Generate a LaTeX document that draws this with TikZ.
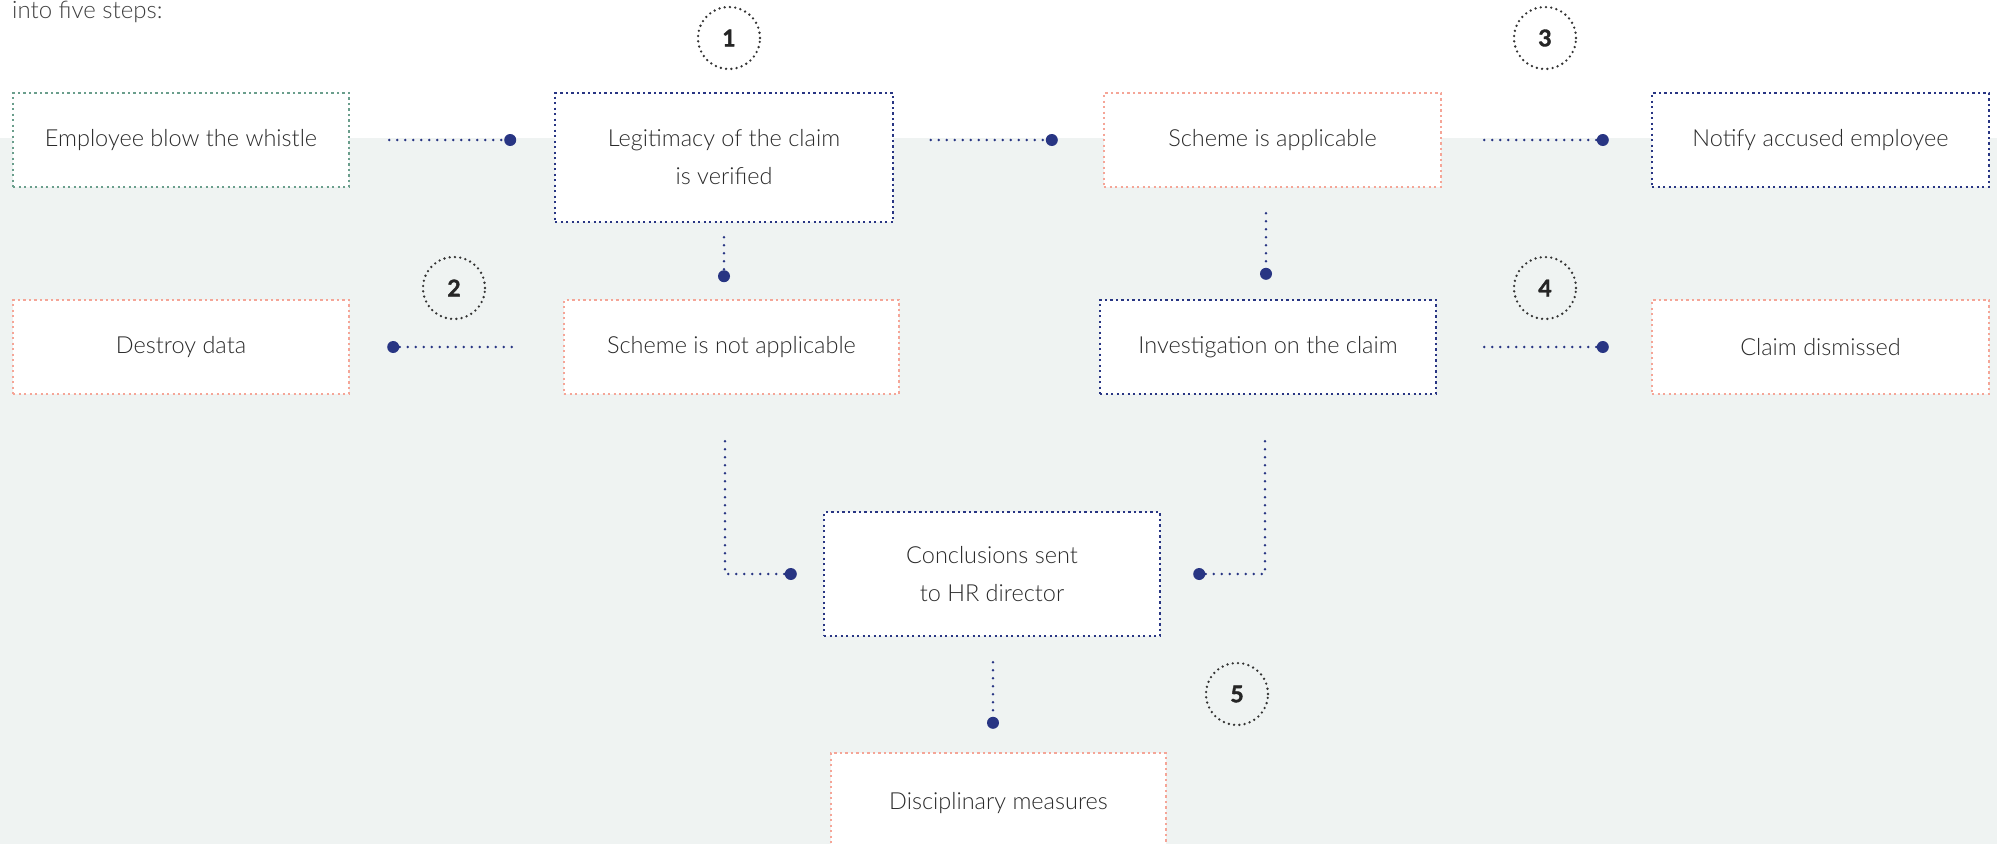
\documentclass[tikz,border=0pt]{standalone}
\usepackage{fontspec}
\setmainfont{Lato}
\newfontfamily\lightfont{Lato Light}
\newfontfamily\numfont{Lato}[BoldFeatures={FakeBold=1.6}]
\usetikzlibrary{calc}
\definecolor{navy}{HTML}{283583}
\definecolor{salmon}{HTML}{F5A597}
\definecolor{sage}{HTML}{6A9E8C}
\definecolor{bggray}{HTML}{EFF3F2}
\definecolor{txt}{HTML}{2A2A2A}
\begin{document}
\begin{tikzpicture}[x=1pt,y=-1pt,
  box/.style={draw=#1, fill=white, line width=2.4pt, dash pattern=on 2.4pt off 3.1pt,
    inner sep=0pt, align=center, font=\lightfont\fontsize{23.5}{38}\selectfont, text=txt},
  conn/.style={draw=navy, line width=2.7pt, line cap=round, dash pattern=on 0pt off 8pt},
  enddot/.style={fill=navy},
  stepnum/.style={circle, draw=black!80, line width=2.6pt, line cap=round,
    dash pattern=on 0pt off 5.3pt, minimum size=62pt, inner sep=0pt,
    font=\numfont\bfseries\fontsize{23}{23}\selectfont, text=black!85}]
\useasboundingbox (0,0) rectangle (1997,844);
\fill[white] (0,0) rectangle (1997,844);
\fill[bggray] (0,138) rectangle (1997,844);

\node[anchor=base west, inner sep=0pt, font=\lightfont\fontsize{24}{24}\selectfont, text=txt!90] (intro) at (12,18) {into five steps:};

% boxes
\node[box=sage, minimum width=336pt, minimum height=94pt] (emp) at (181,140) {Employee blow the whistle};
\node[box=navy, minimum width=338pt, minimum height=129pt] (leg) at (724,157.5) {Legitimacy of the claim\\is verified};
\node[box=salmon, minimum width=337pt, minimum height=94pt] (sa) at (1272.5,140) {Scheme is applicable};
\node[box=navy, minimum width=337pt, minimum height=94pt] (nae) at (1820.5,140) {Notify accused employee};
\node[box=salmon, minimum width=336pt, minimum height=94pt] (dd) at (181,347) {Destroy data};
\node[box=salmon, minimum width=335pt, minimum height=94pt] (sna) at (731.5,347) {Scheme is not applicable};
\node[box=navy, minimum width=336pt, minimum height=94pt] (inv) at (1268,347) {Investigation on the claim};
\node[box=salmon, minimum width=337pt, minimum height=94pt] (cd) at (1820.5,347) {Claim dismissed};
\node[box=navy, minimum width=336pt, minimum height=124pt] (con) at (992,574) {Conclusions sent\\to HR director};
\node[box=salmon, minimum width=335pt, minimum height=100pt] (dm) at (998.5,803) {Disciplinary measures};

% step circles
\node[stepnum] (n1) at (729,38) {1};
\node[stepnum] (n2) at (454,288) {2};
\node[stepnum] (n3) at (1545,38) {3};
\node[stepnum] (n4) at (1545,288) {4};
\node[stepnum] (n5) at (1237,694) {5};

% connectors
\coordinate (d1) at ($(emp.east)+(160,0)$);
\draw[conn] ($(emp.east)+(39,0)$) -- (d1);
\fill[enddot] (d1) circle (6);

\coordinate (d2) at ($(sa.west)+(-51,0)$);
\draw[conn] ($(sa.west)+(-172,0)$) -- (d2);
\fill[enddot] (d2) circle (6);

\coordinate (d3) at ($(nae.west)+(-48,0)$);
\draw[conn] ($(sa.east)+(42,0)$) -- (d3);
\fill[enddot] (d3) circle (6);

\coordinate (d4) at ($(leg.south)+(0,53)$);
\draw[conn] ($(leg.south)+(0,14)$) -- (d4);
\fill[enddot] (d4) circle (6);

\coordinate (d5) at ($(dd.east)+(43,0)$);
\draw[conn] ($(sna.west)+(-51,0)$) -- (d5);
\fill[enddot] (d5) circle (6);

\coordinate (d6) at ($(inv.north)+(-2,-25)$);
\draw[conn] ($(sa.south)+(-6.5,25)$) -- (d6);
\fill[enddot] (d6) circle (6);

\coordinate (d7) at ($(cd.west)+(-48,0)$);
\draw[conn] ($(inv.east)+(47,0)$) -- (d7);
\fill[enddot] (d7) circle (6);

\coordinate (d8) at ($(con.west)+(-32,0)$);
\draw[conn] ($(sna.south)+(-6.5,46)$) |- (d8);
\fill[enddot] (d8) circle (6);

\coordinate (d9) at ($(con.east)+(38,0)$);
\draw[conn] ($(inv.south)+(-3,46)$) |- (d9);
\fill[enddot] (d9) circle (6);

\coordinate (d10) at ($(dm.north)+(-5.5,-29)$);
\draw[conn] ($(con.south)+(1,25)$) -- (d10);
\fill[enddot] (d10) circle (6);
\end{tikzpicture}
\end{document}
